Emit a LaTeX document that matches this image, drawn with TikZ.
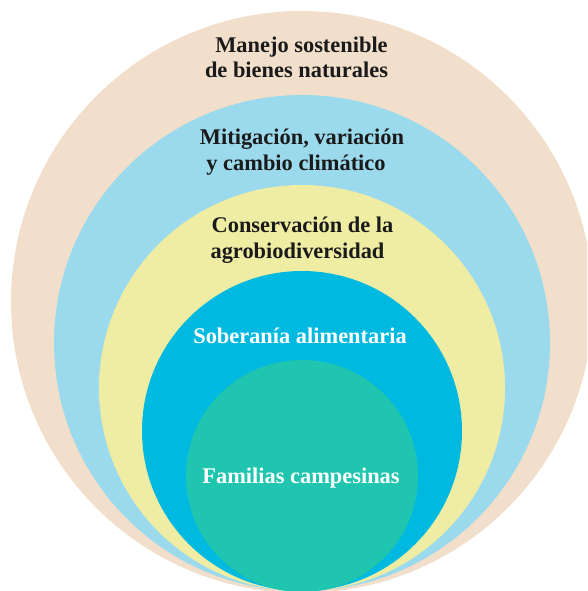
\documentclass[tikz,border=0pt]{standalone}
\usepackage{fontspec}
\setmainfont{Liberation Serif}
\definecolor{ctan}{HTML}{F2DFCB}
\definecolor{cblue}{HTML}{9BDAEC}
\definecolor{cyel}{HTML}{EFEDA3}
\definecolor{ccyan}{HTML}{00B9E1}
\definecolor{cteal}{HTML}{1FC5AE}
\definecolor{ctext}{HTML}{1A1A1A}
\begin{document}
\begin{tikzpicture}[x=1pt,y=-1pt,
  lbl/.style={anchor=base,inner sep=0pt,font=\fontsize{22.4}{26}\selectfont\bfseries,text=ctext},
  wlbl/.style={lbl,text=white}]
\useasboundingbox (0,0) rectangle (587,591);
\clip (0,0) rectangle (587,591);
\fill[ctan] (302,302) circle[radius=291];
\fill[cblue] (302,343) circle[radius=248];
\fill[cyel] (302,388) circle[radius=203];
\fill[ccyan] (302,431) circle[radius=160];
\fill[cteal] (302,476) circle[radius=116];
\node[lbl] (m1) at (301.5,53) {Manejo sostenible};
\node[lbl] (m2) at (296.5,78) {de bienes naturales};
\node[lbl] (b1) at (302,144) {Mitigación, variación};
\node[lbl] (b2) at (296,170) {y cambio climático};
\node[lbl] (y1) at (302.5,232) {Conservación de la};
\node[lbl] (y2) at (297.5,258) {agrobiodiversidad};
\node[wlbl] (c1) at (300,343) {Soberanía alimentaria};
\node[wlbl] (t1) at (301,483) {Familias campesinas};
\end{tikzpicture}
\end{document}
